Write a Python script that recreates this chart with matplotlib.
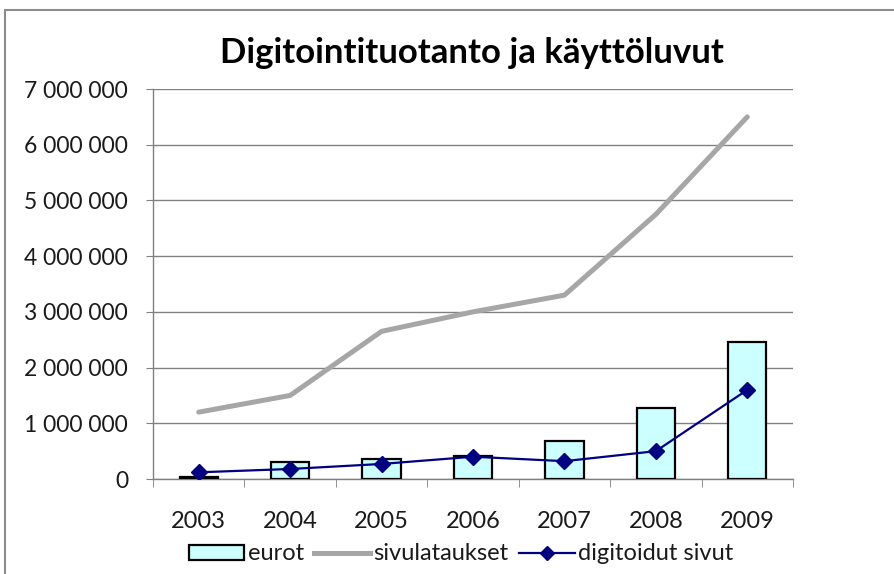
import matplotlib
matplotlib.use("Agg")
import matplotlib.pyplot as plt
import numpy as np
from matplotlib.lines import Line2D
from matplotlib.patches import Patch, Rectangle

years = ["2003", "2004", "2005", "2006", "2007", "2008", "2009"]
eurot = [30000, 300000, 360000, 410000, 680000, 1270000, 2460000]
sivulataukset = [1200000, 1500000, 2650000, 3000000, 3300000, 4750000, 6500000]
digitoidut = [120000, 180000, 270000, 400000, 320000, 500000, 1600000]
yticks = [0, 1000000, 2000000, 3000000, 4000000, 5000000, 6000000, 7000000]
ytick_labels = ["0", "1 000 000", "2 000 000", "3 000 000", "4 000 000",
                "5 000 000", "6 000 000", "7 000 000"]

plt.rcParams['font.family'] = ['Lato', 'DejaVu Sans']

W, H = 894, 574
fig = plt.figure(figsize=(W / 100, H / 100), dpi=100)
fig.patch.set_facecolor('white')
# outer frame (cropped on right/bottom)
fig.add_artist(Rectangle((5 / W, -0.1), 1.2, (H - 10) / H + 0.1, transform=fig.transFigure,
                         fill=False, edgecolor='#8c8c8c', linewidth=1.5))

left, right, top, bottom = 153, 793, 89, 479
ax = fig.add_axes([left / W, 1 - bottom / H, (right - left) / W, (bottom - top) / H])

x = np.arange(len(years))
ax.bar(x, eurot, width=0.42, color='#ccffff', edgecolor='black', linewidth=1.6,
       zorder=3, label='eurot')
ax.plot(x, sivulataukset, color='#a6a6a6', linewidth=3.6, zorder=4,
        solid_capstyle='round', label='sivulataukset')
ax.plot(x, digitoidut, color='#000080', linewidth=1.6, marker='D', markersize=8.5,
        zorder=5, label='digitoidut sivut')

ax.set_xlim(-0.5, len(years) - 0.5)
ax.set_ylim(0, 7000000)
ax.set_yticks(yticks)
ax.set_yticklabels(ytick_labels, fontsize=16.5, color='#1a1a1a')
ax.set_xticks(x)
ax.set_xticklabels(years, fontsize=17, color='#1a1a1a')
ax.set_xticks(np.arange(-0.5, len(years), 1), minor=True)
ax.tick_params(axis='x', which='major', length=0, pad=23)
ax.tick_params(axis='x', which='minor', length=6, color='#808080')
ax.tick_params(axis='y', length=5, color='#808080', pad=13)
ax.grid(axis='y', color='#808080', linewidth=1, zorder=0)
for s in ['top', 'right']:
    ax.spines[s].set_visible(False)
for s in ['left', 'bottom']:
    ax.spines[s].set_color('#808080')
    ax.spines[s].set_linewidth(1)

fig.text(472 / W, 1 - 53 / H, "Digitointituotanto ja käyttöluvut", ha='center', va='center',
         fontsize=25, fontweight='bold')

handles = [Patch(facecolor='#ccffff', edgecolor='black', linewidth=1.6, label='eurot'),
           Line2D([], [], color='#a6a6a6', linewidth=3.6, label='sivulataukset'),
           Line2D([], [], color='#000080', linewidth=1.6, marker='D', markersize=7,
                  label='digitoidut sivut')]
fig.legend(handles=handles, loc='center', bbox_to_anchor=(461 / W, 1 - 554 / H), ncol=3,
           frameon=False, fontsize=17, handlelength=2.35, handleheight=0.62,
           handletextpad=0.15, columnspacing=0.45, labelcolor='#1a1a1a')

fig.savefig("out.png", dpi=100, facecolor='white')
